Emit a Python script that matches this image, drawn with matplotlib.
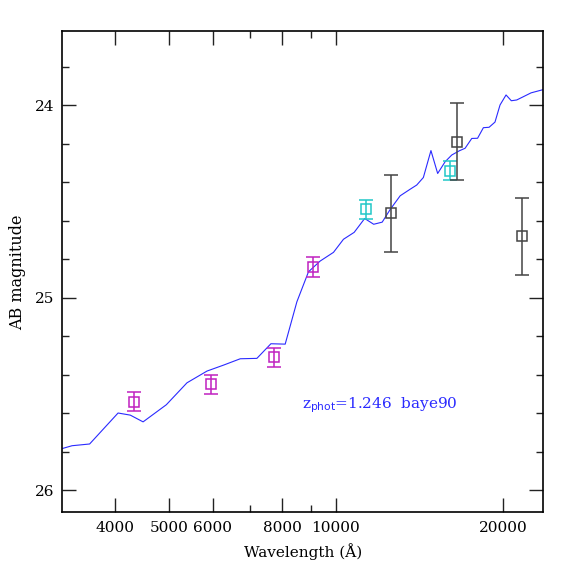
import numpy as np
import matplotlib
matplotlib.use("Agg")
import matplotlib.pyplot as plt
from matplotlib.ticker import FixedLocator, NullFormatter, MultipleLocator

plt.rcParams['font.family'] = ['DejaVu Serif']

# === model SED (blue line) ===
sed_wave = [3217, 3344, 3597, 4048, 4259, 4491, 4946, 5389, 5856, 6273,
            6724, 7204, 7636, 8102, 8505, 8925, 9370, 9901, 10320, 10790,
            11270, 11700, 12120, 12530, 13060, 13610, 13990, 14380, 14840, 15260,
            15740, 16180, 16700, 17100, 17580, 18010, 18450, 18890, 19360, 19770,
            20270, 20720, 21190, 21780, 22490, 23660]
sed_mag = [25.783, 25.769, 25.760, 25.599, 25.610, 25.645, 25.556, 25.442, 25.381, 25.350,
           25.317, 25.315, 25.239, 25.241, 25.021, 24.865, 24.809, 24.764, 24.696, 24.660,
           24.588, 24.618, 24.607, 24.541, 24.470, 24.436, 24.414, 24.375, 24.235, 24.354,
           24.293, 24.258, 24.236, 24.223, 24.172, 24.171, 24.116, 24.114, 24.087, 23.998,
           23.946, 23.976, 23.972, 23.955, 23.935, 23.918]

# === photometry ===
mag_wave = [4318, 5962, 7719, 9092]
mag_val = [25.54, 25.45, 25.31, 24.84]
mag_err = [0.05, 0.05, 0.05, 0.05]

cyan_wave = [11340, 16090]
cyan_val = [24.54, 24.34]
cyan_err = [0.05, 0.05]

blk_wave = [12546, 16535, 21665]
blk_val = [24.56, 24.19, 24.68]
blk_err = [0.2, 0.2, 0.2]

xticks_major = [4000, 5000, 6000, 8000, 10000, 20000]
xticks_minor = [7000, 9000]

fig = plt.figure(figsize=(5.74, 5.74), dpi=100)
ax = fig.add_axes([0.1085, 0.1075, 0.838, 0.838])

ax.plot(sed_wave, sed_mag, color='#2a2aff', lw=0.8)

ekw = dict(fmt='s', ms=7.5, mfc='none', mew=1.1, capsize=5, elinewidth=1.1, capthick=1.1)
ax.errorbar(mag_wave, mag_val, yerr=mag_err, color='#c020c0', **ekw)
ax.errorbar(cyan_wave, cyan_val, yerr=cyan_err, color='#20c8c8', **ekw)
ax.errorbar(blk_wave, blk_val, yerr=blk_err, color='#444444', **ekw)

ax.set_xscale('log')
ax.set_xlim(3211, 23660)
ax.set_ylim(26.115, 23.615)

ax.xaxis.set_major_locator(FixedLocator(xticks_major))
ax.xaxis.set_minor_locator(FixedLocator(xticks_minor))
ax.set_xticklabels([str(v) for v in xticks_major])
ax.xaxis.set_minor_formatter(NullFormatter())
ax.yaxis.set_major_locator(MultipleLocator(1))
ax.yaxis.set_minor_locator(MultipleLocator(0.2))

ax.tick_params(which='both', direction='in', top=True, right=True, labelsize=11,
               width=1.0, color='#222222')
ax.tick_params(which='major', length=10, pad=6)
ax.tick_params(which='minor', length=5)
for s in ax.spines.values():
    s.set_linewidth(1.2)

ax.set_xlabel('Wavelength (Å)', fontsize=11, labelpad=6)
ax.set_ylabel('AB magnitude', fontsize=11.5, labelpad=6)

ax.text(8700, 25.558, r'z$_{\rm phot}$=1.246  baye90', color='#2a2aff',
        fontsize=11, va='center', ha='left')

fig.savefig('out.png', dpi=100)
